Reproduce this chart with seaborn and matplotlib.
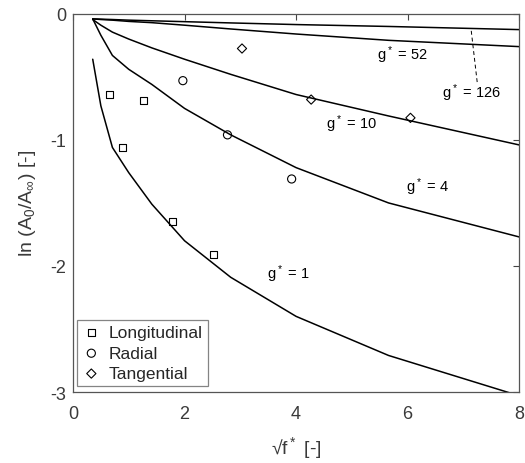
import matplotlib
matplotlib.use('Agg')
import matplotlib.pyplot as plt
import seaborn as sns
import pandas as pd

# sqrt(f*) positions of the model curves
sqrt_f = [0.354, 0.5, 0.707, 1.0, 1.414, 2.0, 2.828, 4.0, 5.657, 8.0]

# ln(A0/Ainf) model curves for each g*
g1 = [-0.36, -0.73, -1.06, -1.26, -1.51, -1.80, -2.09, -2.40, -2.71, -3.03]
g4 = [-0.04, -0.17, -0.33, -0.44, -0.56, -0.75, -0.96, -1.22, -1.50, -1.77]
g10 = [-0.045, -0.09, -0.145, -0.20, -0.27, -0.36, -0.48, -0.64, -0.81, -1.04]
g52 = [-0.04, -0.045, -0.05, -0.06, -0.07, -0.09, -0.12, -0.16, -0.21, -0.26]
g126 = [-0.04, -0.042, -0.045, -0.05, -0.055, -0.062, -0.072, -0.085, -0.10, -0.125]

# measurements
long_x = [0.65, 0.89, 1.27, 1.78, 2.52]
long_y = [-0.64, -1.06, -0.69, -1.65, -1.91]
rad_x = [1.97, 2.77, 3.92]
rad_y = [-0.53, -0.96, -1.31]
tan_x = [3.03, 4.27, 6.05]
tan_y = [-0.275, -0.68, -0.825]

sns.set_style('white')
plt.rcParams['font.family'] = ['Liberation Sans', 'DejaVu Sans']
plt.rcParams['mathtext.default'] = 'regular'

curves = pd.DataFrame({
    'x': sqrt_f * 5,
    'y': g1 + g4 + g10 + g52 + g126,
    'g': sum([[k] * len(sqrt_f) for k in ['1', '4', '10', '52', '126']], []),
})

fig = plt.figure(figsize=(5.25, 4.64), dpi=100)
ax = fig.add_axes([0.139, 0.153, 0.850, 0.815])

sns.lineplot(data=curves, x='x', y='y', units='g', estimator=None,
             color='black', lw=1.1, ax=ax, legend=False)

mk = dict(facecolor='none', edgecolor='black', linewidth=0.8, zorder=3)
sns.scatterplot(x=long_x, y=long_y, marker='s', s=26, label='Longitudinal', ax=ax, **mk)
sns.scatterplot(x=rad_x, y=rad_y, marker='o', s=34, label='Radial', ax=ax, **mk)
sns.scatterplot(x=tan_x, y=tan_y, marker='D', s=22, label='Tangential', ax=ax, **mk)

# curve labels
lab = dict(fontsize=10.5, color='black', ha='center', va='center')
ax.text(5.9, -0.32, 'g$^*$ = 52', **lab)
ax.text(7.15, -0.62, 'g$^*$ = 126', **lab)
ax.text(5.0, -0.865, 'g$^*$ = 10', **lab)
ax.text(6.35, -1.37, 'g$^*$ = 4', **lab)
ax.text(3.86, -2.06, 'g$^*$ = 1', **lab)
ax.plot([7.14, 7.25], [-0.135, -0.555], color='black', lw=0.7, ls=(0, (4, 3)))

ax.set_xlim(0, 8)
ax.set_ylim(-3, 0)
ax.set_xticks([0, 2, 4, 6, 8])
ax.set_yticks([-3, -2, -1, 0])
ax.set_yticklabels(['-3', '-2', '-1', '0'])
ax.tick_params(direction='in', length=4, width=0.8, top=True, right=True,
               labelsize=13, colors='#444444', labelcolor='#3a3a3a', pad=5)
ax.tick_params(axis='x', pad=9)
for s in ax.spines.values():
    s.set_color('#555555')
    s.set_linewidth(0.9)

ax.set_xlabel('√f$^*$ [-]', fontsize=14, color='#3a3a3a', labelpad=9)
ax.set_ylabel('ln (A$_0$/A$_\\infty$) [-]', fontsize=14, color='#3a3a3a', labelpad=9)

leg = ax.legend(loc='lower left', bbox_to_anchor=(0.01, 0.015), fontsize=12.5,
                frameon=True, fancybox=False, edgecolor='#666666',
                handlelength=1.0, handletextpad=0.5, borderpad=0.3,
                labelspacing=0.3, borderaxespad=0)
leg.get_frame().set_linewidth(0.9)

fig.savefig('out.png', dpi=100)
